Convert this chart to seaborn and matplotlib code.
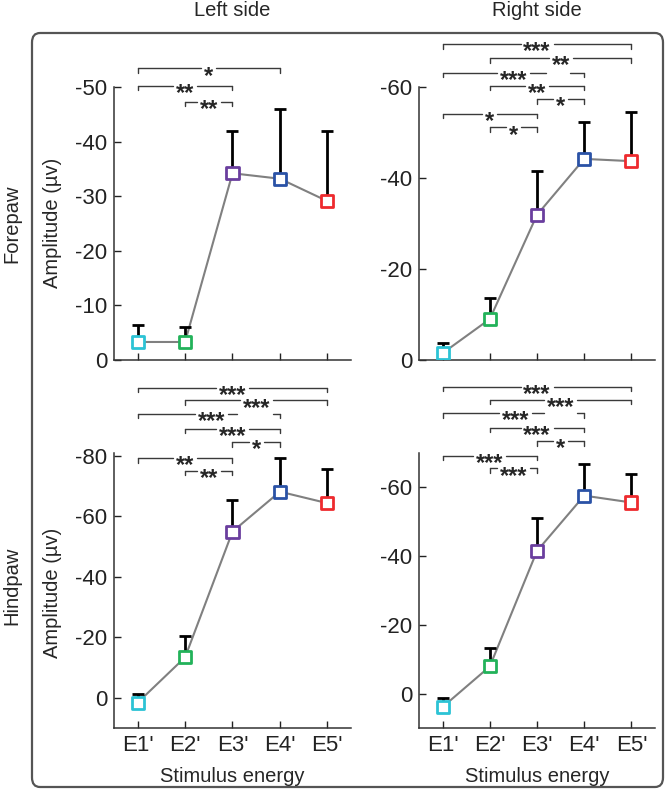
import numpy as np
import pandas as pd
import seaborn as sns
import matplotlib.pyplot as plt
from matplotlib.patches import FancyBboxPatch
from matplotlib.transforms import offset_copy

# stimulus levels and marker colours
levels = ["E1'", "E2'", "E3'", "E4'", "E5'"]
colors = ['#2cc3d5', '#22b25a', '#6a3e9e', '#2a52a6', '#ee2a2e']

# mean amplitude (uV) and one-sided error for each panel
fore_left_mean = [-3.3, -3.3, -34.2, -33.2, -29.1]
fore_left_err = [3.2, 2.7, 7.8, 12.8, 12.8]
fore_right_mean = [-1.5, -9.0, -31.9, -44.2, -43.7]
fore_right_err = [2.2, 4.6, 9.6, 8.0, 10.9]
hind_left_mean = [1.6, -13.4, -55.0, -68.2, -64.4]
hind_left_err = [3.0, 6.9, 10.4, 11.0, 11.2]
hind_right_mean = [3.9, -7.9, -41.5, -57.6, -55.6]
hind_right_err = [2.6, 5.5, 9.5, 9.2, 8.3]

# significance brackets: (from, to, label, level, text x, line cut)
fore_left_sig = [(0, 3, '*', -53.4, None, None),
                 (0, 2, '**', -50.2, None, None),
                 (1, 2, '**', -47.3, None, None)]
fore_right_sig = [(0, 4, '***', -69.4, None, None),
                  (1, 4, '**', -66.3, None, None),
                  (0, 3, '***', -63.1, 1.5, (2.2, 2.7)),
                  (1, 3, '**', -60.3, None, None),
                  (2, 3, '*', -57.3, None, None),
                  (0, 2, '*', -54.1, None, None),
                  (1, 2, '*', -51.1, None, None)]
hind_left_sig = [(0, 4, '***', -102.6, None, None),
                 (1, 4, '***', -98.4, None, None),
                 (0, 3, '***', -94.0, 1.55, (2.1, 2.85)),
                 (1, 3, '***', -89.1, None, None),
                 (2, 3, '*', -84.6, None, None),
                 (0, 2, '**', -79.3, None, None),
                 (1, 2, '**', -75.2, None, None)]
hind_right_sig = [(0, 4, '***', -89.2, None, None),
                  (1, 4, '***', -85.5, None, None),
                  (0, 3, '***', -81.6, 1.55, (2.15, 2.85)),
                  (1, 3, '***', -77.3, None, None),
                  (2, 3, '*', -73.4, None, None),
                  (0, 2, '***', -69.1, None, None),
                  (1, 2, '***', -65.5, None, None)]

W, H = 666, 791
sns.set_style('ticks')
plt.rcParams['font.family'] = ['Liberation Sans', 'DejaVu Sans']
plt.rcParams['font.size'] = 14
plt.rcParams['axes.unicode_minus'] = False

STAR_FS = 17
LABEL_FS = 14.5


def px(x, y):
    return x / W, 1 - y / H


def draw_bracket(ax, x1, x2, label, y, xt, cut, dy, px_per_unit):
    lc = '#3a3a3a'
    if xt is None:
        xt = (x1 + x2) / 2
    half = (len(label) * 9 + 6) / 2 / px_per_unit
    segs = [(x1, xt - half)]
    if cut is None:
        segs.append((xt + half, x2))
    else:
        segs.append((xt + half, cut[0]))
        segs.append((cut[1], x2))
    for a, b in segs:
        ax.plot([a, b], [y, y], color=lc, lw=1, clip_on=False)
    ax.plot([x1, x1], [y, y + dy], color=lc, lw=1, clip_on=False)
    ax.plot([x2, x2], [y, y + dy], color=lc, lw=1, clip_on=False)
    tr = offset_copy(ax.transData, fig=ax.figure, x=0, y=-0.6 * STAR_FS, units='points')
    ax.text(xt, y, label, transform=tr, ha='center', va='baseline', fontsize=STAR_FS,
            fontweight='bold', clip_on=False, zorder=5)


def draw_panel(ax, mean, err, sig, ylim, yticks, show_x):
    df = pd.DataFrame({'pos': np.arange(len(levels)), 'level': levels, 'amp': mean})
    sns.lineplot(data=df, x='pos', y='amp', color='#808080', lw=1.5, ax=ax, zorder=1)
    ax.errorbar(df['pos'], df['amp'], yerr=[err, np.zeros(len(err))], fmt='none',
                ecolor='black', elinewidth=2, capsize=4, capthick=2, zorder=2)
    sns.scatterplot(data=df, x='pos', y='amp', hue='level', palette=colors, marker='s',
                    s=75, linewidth=2, legend=False, ax=ax, zorder=3)
    # scatterplot fills with hue colour; reset to white face and coloured edge
    coll = ax.collections[-1]
    coll.set_facecolor('white')
    coll.set_edgecolor(colors)
    ax.set_xlim(-0.5, 4.5)
    ax.set_ylim(ylim)
    ax.set_yticks(yticks)
    ax.set_xticks(range(len(levels)))
    ax.set_xticklabels(levels if show_x else [])
    ax.set_xlabel('')
    ax.set_ylabel('')
    ax.tick_params(direction='in', length=5, width=1, colors='#222222', labelsize=16)
    ax.tick_params(axis='y', pad=5)
    ax.tick_params(axis='x', pad=5)
    for s in ['left', 'bottom']:
        ax.spines[s].set_color('#333333')
        ax.spines[s].set_linewidth(1.1)
    sns.despine(ax=ax)
    dy = abs(ylim[1] - ylim[0]) * 0.016
    ppu = ax.get_position().width * W / 5
    for i, j, lab, y, xt, cut in sig:
        draw_bracket(ax, i, j, lab, y, xt, cut, dy, ppu)


fig = plt.figure(figsize=(W / 100, H / 100), dpi=100)

frame = FancyBboxPatch(px(32, 787), (663 - 32) / W, (787 - 33) / H,
                       boxstyle='round,pad=0,rounding_size=0.012',
                       transform=fig.transFigure, fc='none', ec='#555555', lw=1.6)
fig.patches.append(frame)

ax_fl = fig.add_axes([114 / W, 1 - 360 / H, 237 / W, 273 / H])
ax_fr = fig.add_axes([419 / W, 1 - 360 / H, 236 / W, 273 / H])
ax_hl = fig.add_axes([114 / W, 1 - 728 / H, 237 / W, 275 / H])
ax_hr = fig.add_axes([419 / W, 1 - 728 / H, 236 / W, 275 / H])

draw_panel(ax_fl, fore_left_mean, fore_left_err, fore_left_sig, (0, -50), [0, -10, -20, -30, -40, -50], False)
draw_panel(ax_fr, fore_right_mean, fore_right_err, fore_right_sig, (0, -60), [0, -20, -40, -60], False)
draw_panel(ax_hl, hind_left_mean, hind_left_err, hind_left_sig, (10, -81), [0, -20, -40, -60, -80], True)
draw_panel(ax_hr, hind_right_mean, hind_right_err, hind_right_sig, (10, -70), [0, -20, -40, -60], True)

fig.text(*px(232, 11), 'Left side', ha='center', va='center', fontsize=LABEL_FS)
fig.text(*px(537, 11), 'Right side', ha='center', va='center', fontsize=LABEL_FS)
fig.text(*px(12, 224), 'Forepaw', ha='center', va='center', rotation=90, fontsize=LABEL_FS)
fig.text(*px(12, 586), 'Hindpaw', ha='center', va='center', rotation=90, fontsize=LABEL_FS)
fig.text(*px(52, 223), 'Amplitude (\u00b5v)', ha='center', va='center', rotation=90, fontsize=LABEL_FS)
fig.text(*px(52, 593), 'Amplitude (\u00b5v)', ha='center', va='center', rotation=90, fontsize=LABEL_FS)
fig.text(*px(232, 776), 'Stimulus energy', ha='center', va='center', fontsize=LABEL_FS)
fig.text(*px(537, 776), 'Stimulus energy', ha='center', va='center', fontsize=LABEL_FS)

fig.savefig('out.png', dpi=100)
